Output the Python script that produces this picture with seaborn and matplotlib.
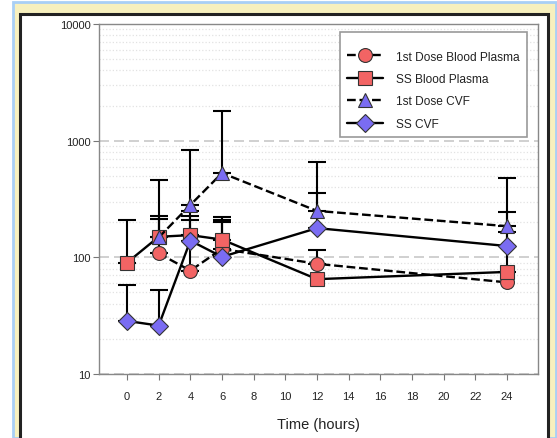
import numpy as np
import pandas as pd
import seaborn as sns
import matplotlib.pyplot as plt
from matplotlib.patches import Rectangle
from matplotlib.ticker import FixedLocator, NullFormatter, LogLocator

sns.set_style("white")
plt.rcParams['font.family'] = ['Liberation Sans', 'DejaVu Sans']

# ---- data ----
series_names = ["1st Dose Blood Plasma", "SS Blood Plasma", "1st Dose CVF", "SS CVF"]

t_fd_plasma = [2, 4, 6, 12, 24]
v_fd_plasma = [108, 77, 118, 88, 61]
e_fd_plasma = [213, 210, 210, 115, np.nan]

t_ss_plasma = [0, 2, 4, 6, 12, 24]
v_ss_plasma = [90, 150, 155, 142, 65, 75]
e_ss_plasma = [210, 227, 226, 222, np.nan, 165]

t_fd_cvf = [2, 4, 6, 12, 24]
v_fd_cvf = [148, 281, 528, 250, 185]
e_fd_cvf = [459, 836, 1795, 656, 478]

t_ss_cvf = [0, 2, 4, 6, 12, 24]
v_ss_cvf = [28.5, 26, 139, 101, 178, 125]
e_ss_cvf = [58, 52, 250, 200, 356, 246]

x_ticks = [0, 2, 4, 6, 8, 10, 12, 14, 16, 18, 20, 22, 24]
y_ticks = [10, 100, 1000, 10000]
y_tick_labels = ["10", "100", "1000", "10000"]
x_label = "Time (hours)"

red = "#F26464"
blue = "#7A6CF2"

series = [
    (series_names[0], t_fd_plasma, v_fd_plasma, e_fd_plasma, 'o', red, '--'),
    (series_names[1], t_ss_plasma, v_ss_plasma, e_ss_plasma, 's', red, '-'),
    (series_names[2], t_fd_cvf, v_fd_cvf, e_fd_cvf, '^', blue, '--'),
    (series_names[3], t_ss_cvf, v_ss_cvf, e_ss_cvf, 'D', blue, '-'),
]

fig = plt.figure(figsize=(5.57, 4.39), dpi=100)
W, H = 557, 439

# decorative frame
fig.patches.append(Rectangle((13 / W, 0), (556 - 13) / W, (439 - 3) / H, transform=fig.transFigure,
                             facecolor="#F7F0BE", edgecolor="#A9CFF5", lw=2.0, zorder=-10))
fig.patches.append(Rectangle((20 / W, -0.01), (548 - 20) / W, (439 - 14.5) / H + 0.01, transform=fig.transFigure,
                             facecolor="white", edgecolor="#222222", lw=2.2, zorder=-9))

ax = fig.add_axes([99 / W, 1 - 375 / H, (538 - 99) / W, (375 - 25) / H])
ax.set_zorder(5)
ax.set_facecolor("none")

msize = {'o': 10, 's': 9.5, '^': 10.5, 'D': 9.5}
for name, t, v, e, mk, col, ls in series:
    t_arr = np.array(t, dtype=float)
    v_arr = np.array(v, dtype=float)
    e_arr = np.array(e, dtype=float)
    m = ~np.isnan(e_arr)
    upper = e_arr[m] - v_arr[m]
    ax.errorbar(t_arr[m], v_arr[m], yerr=[np.zeros_like(upper), upper], fmt='none',
                ecolor='black', elinewidth=1.5, capsize=6.5, capthick=1.5, zorder=2)
    df = pd.DataFrame({"t": t, "v": v})
    sns.lineplot(data=df, x="t", y="v", ax=ax, color="black", linestyle=ls, lw=1.7,
                 marker=mk, markersize=msize[mk], markerfacecolor=col,
                 markeredgecolor="#333333", markeredgewidth=0.8, label=name,
                 errorbar=None, zorder=3)

ax.set_yscale("log")
ax.set_ylim(10, 10000)
ax.set_xlim(-1.77, 25.96)
ax.yaxis.set_major_locator(FixedLocator(y_ticks))
ax.set_yticklabels(y_tick_labels)
ax.yaxis.set_minor_locator(LogLocator(base=10, subs=np.arange(2, 10)))
ax.yaxis.set_minor_formatter(NullFormatter())
ax.set_xticks(x_ticks)
ax.set_xticklabels([str(x) for x in x_ticks])
ax.tick_params(axis='both', which='major', length=4, width=0.8, color="#777777",
               labelsize=8, labelcolor="#222222", left=True, bottom=True)
ax.tick_params(axis='x', pad=8)
ax.tick_params(axis='y', pad=2)
ax.tick_params(axis='y', which='minor', length=0)

ax.grid(True, which='major', axis='y', color="#C8C8C8", ls=(0, (6, 3)), lw=1.2, zorder=0)
ax.grid(True, which='minor', axis='y', color="#E2E2E2", ls=':', lw=0.9, zorder=0)
ax.grid(False, axis='x')

for s in ax.spines.values():
    s.set_color("#888888")
    s.set_linewidth(1.0)

ax.set_xlabel(x_label, fontsize=10.5, color="#222222", labelpad=12)
ax.set_ylabel("")

leg = ax.legend(loc='upper right', bbox_to_anchor=(0.975, 0.977), borderaxespad=0,
                fontsize=8.6, frameon=True, fancybox=False, edgecolor="#999999",
                handlelength=3.0, handletextpad=1.1, labelspacing=0.87,
                borderpad=0.6, framealpha=1, title=" ", title_fontsize=0.5)
leg.get_frame().set_linewidth(1.2)
for txt in leg.get_texts():
    txt.set_color("#222222")

fig.savefig("out.png", dpi=100)
